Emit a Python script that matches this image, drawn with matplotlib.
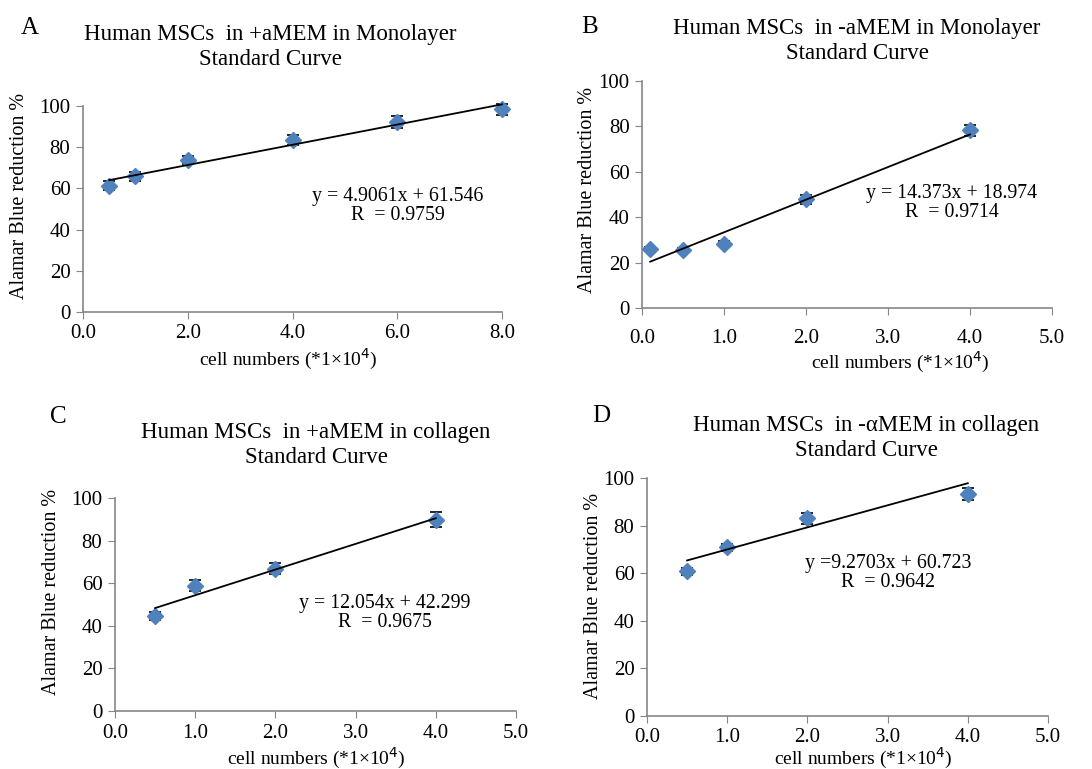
import matplotlib.pyplot as plt
import numpy as np

plt.rcParams['font.family'] = ['Liberation Serif', 'DejaVu Serif']

W, H = 1092, 769

# Panel A: +aMEM monolayer
a_x = [0.5, 1.0, 2.0, 4.0, 6.0, 8.0]
a_y = [61.4, 65.8, 73.8, 83.5, 92.3, 98.4]
a_err = [2.0, 2.0, 2.0, 2.5, 2.8, 2.8]
# Panel B: -aMEM monolayer
b_x = [0.1, 0.5, 1.0, 2.0, 4.0]
b_y = [26.0, 25.6, 28.3, 47.8, 78.2]
b_err = [0.8, 1.0, 1.0, 1.8, 2.6]
# Panel C: +aMEM collagen
c_x = [0.5, 1.0, 2.0, 4.0]
c_y = [44.6, 58.8, 66.8, 89.8]
c_err = [2.0, 2.5, 2.5, 3.6]
# Panel D: -aMEM collagen
d_x = [0.5, 1.0, 2.0, 4.0]
d_y = [60.8, 70.8, 83.0, 93.2]
d_err = [1.5, 1.6, 2.4, 2.6]

fits = [(4.9061, 61.546), (14.373, 18.974), (12.054, 42.299), (9.2703, 60.723)]
eq_text = ["y = 4.9061x + 61.546\nR  = 0.9759",
           "y = 14.373x + 18.974\nR  = 0.9714",
           "y = 12.054x + 42.299\nR  = 0.9675",
           "y =9.2703x + 60.723\nR  = 0.9642"]
titles = ["Human MSCs  in +aMEM in Monolayer\nStandard Curve",
          "Human MSCs  in -aMEM in Monolayer\nStandard Curve",
          "Human MSCs  in +aMEM in collagen\nStandard Curve",
          "Human MSCs  in -\u03b1MEM in collagen\nStandard Curve"]
letters = ["A", "B", "C", "D"]
xmax = [8.0, 5.0, 5.0, 5.0]
xticks = [[0, 2, 4, 6, 8], [0, 1, 2, 3, 4, 5], [0, 1, 2, 3, 4, 5], [0, 1, 2, 3, 4, 5]]
xlabel = "cell numbers (*1\u00d710$^{4}$)"
ylabel = "Alamar Blue reduction %"

# axes boxes in pixels: left, top, right, bottom
boxes = [(83, 106, 502, 312), (642, 81, 1052, 308), (115, 498, 516, 711), (647, 478, 1048, 716)]
# text centres (pixels)
eq_pos = [(398, 206), (952, 203), (385, 613), (888, 573)]
title_pos = [(270, 47), (857, 41), (316, 445), (866, 438)]
letter_pos = [(30, 28), (590, 27), (58, 417), (601, 416)]
xlab_pos = [(288, 359), (900, 362), (316, 758), (863, 758)]
ylab_pos = [(20, 196), (588, 190), (52, 592), (593, 596)]

data = [(a_x, a_y, a_err), (b_x, b_y, b_err), (c_x, c_y, c_err), (d_x, d_y, d_err)]

fig = plt.figure(figsize=(W / 100, H / 100), dpi=100)
blue = '#4F81BD'
grey = '#868686'

for i in range(4):
    l, t, r, b = boxes[i]
    ax = fig.add_axes([l / W, 1 - b / H, (r - l) / W, (b - t) / H])
    x, y, e = data[i]
    ax.errorbar(x, y, yerr=e, fmt='none', ecolor='black', elinewidth=1.2, capsize=4, capthick=1.2,
                zorder=2, clip_on=False)
    ax.plot(x, y, 'D', color=blue, markersize=8.5, zorder=3, clip_on=False)
    m, c0 = fits[i]
    xl = np.array([x[0], x[-1]])
    ax.plot(xl, m * xl + c0, color='black', lw=1.3, zorder=4, clip_on=False)
    ax.set_xlim(0, xmax[i])
    ax.set_ylim(0, 100)
    ax.set_xticks(xticks[i])
    ax.set_xticklabels(["%.1f" % v for v in xticks[i]])
    ax.set_yticks(range(0, 101, 20))
    for s in ['top', 'right']:
        ax.spines[s].set_visible(False)
    for s in ['left', 'bottom']:
        ax.spines[s].set_color(grey)
        ax.spines[s].set_linewidth(1.2)
    ax.tick_params(direction='out', length=5, color=grey, labelsize=15, pad=4)
    if i == 1:
        ax.tick_params(axis='x', pad=10)
    fig.text(ylab_pos[i][0] / W, 1 - ylab_pos[i][1] / H, ylabel, fontsize=14.5, rotation=90,
             ha='center', va='center')
    fig.text(xlab_pos[i][0] / W, 1 - xlab_pos[i][1] / H, xlabel, fontsize=14, ha='center', va='center')
    fig.text(eq_pos[i][0] / W, 1 - eq_pos[i][1] / H, eq_text[i], fontsize=14.3, ha='center', va='center',
             linespacing=1.05)
    fig.text(title_pos[i][0] / W, 1 - title_pos[i][1] / H, titles[i], fontsize=16.5, ha='center', va='center',
             linespacing=1.2)
    fig.text(letter_pos[i][0] / W, 1 - letter_pos[i][1] / H, letters[i], fontsize=18, ha='center', va='center')

fig.savefig('out.png', dpi=100)
